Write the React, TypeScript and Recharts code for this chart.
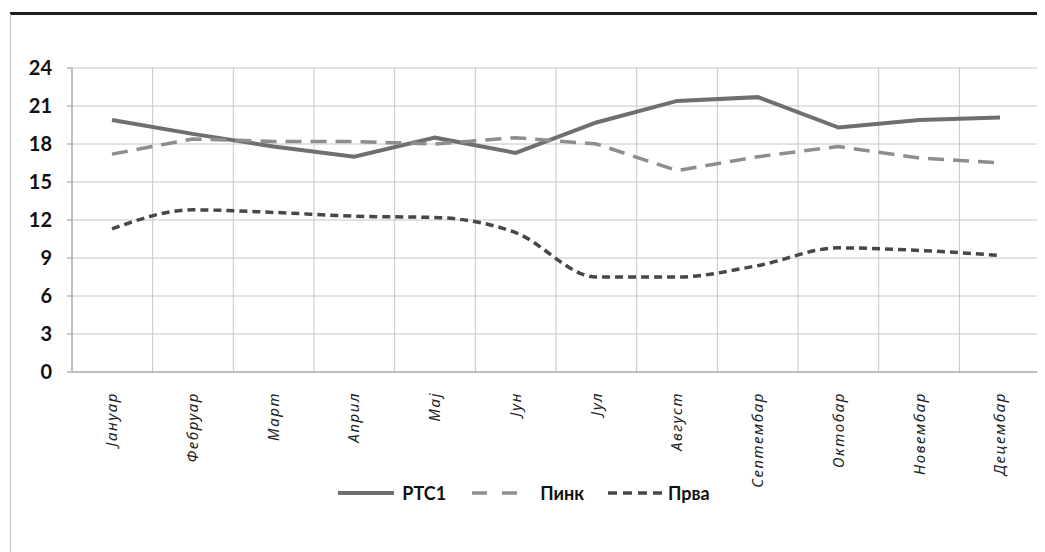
import React from 'react';
import { LineChart, Line, XAxis, YAxis, CartesianGrid, Legend } from 'recharts';

const months = ['Јануар', 'Фебруар', 'Март', 'Април', 'Мај', 'Јун', 'Јул', 'Август', 'Септембар', 'Октобар', 'Новембар', 'Децембар'];
const rtc1 = [19.9, 18.8, 17.8, 17.0, 18.5, 17.3, 19.7, 21.4, 21.7, 19.3, 19.9, 20.1];
const pink = [17.2, 18.4, 18.2, 18.2, 18.0, 18.5, 18.0, 15.9, 17.0, 17.8, 16.9, 16.5];
const prva = [11.3, 12.8, 12.6, 12.3, 12.2, 11.0, 7.5, 7.5, 8.4, 9.8, 9.6, 9.2];
const yTicks = [0, 3, 6, 9, 12, 15, 18, 21, 24];

const data = months.map((m, i) => ({ month: m, rtc1: rtc1[i], pink: pink[i], prva: prva[i] }));

// series styling, shared with the legend samples
const SERIES = [
  { key: 'rtc1', name: 'РТС1', color: '#6f6f6f', width: 4, dash: undefined as string | undefined, type: 'linear' as const },
  { key: 'pink', name: 'Пинк', color: '#8e8e8e', width: 3.5, dash: '16 9', type: 'linear' as const },
  { key: 'prva', name: 'Прва', color: '#474747', width: 3.5, dash: '8 5', type: 'monotone' as const },
];

// legend sample sizes: [line length, dash pattern, gap before label, gap after item]
const LEGEND_SAMPLES: Record<string, [number, string | undefined, number, number]> = {
  rtc1: [56, undefined, 8, 26],
  pink: [45, '15 15', 23, 24],
  prva: [56, '9 6', 4, 0],
};

const MonthTick = (props: any) => {
  const { x, y, payload } = props;
  const ty = y + 12;
  return (
    <text
      x={x}
      y={ty}
      dy="0.35em"
      textAnchor="end"
      transform={`rotate(-90, ${x}, ${ty})`}
      fontFamily="'Noto Sans', sans-serif"
      fontStyle="italic"
      fontSize={15}
      letterSpacing={1.6}
      fill="#222"
    >
      {payload.value}
    </text>
  );
};

const LegendContent = () => (
  <div style={{ display: 'flex', justifyContent: 'center', alignItems: 'center', marginTop: -6, fontFamily: 'Lato, sans-serif', fontWeight: 700, fontSize: 18, color: '#111' }}>
    {SERIES.map(s => {
      const [len, dash, gapIn, gapOut] = LEGEND_SAMPLES[s.key];
      return (
        <div key={s.key} style={{ display: 'flex', alignItems: 'center', marginRight: gapOut }}>
          <svg width={len} height={10} style={{ marginRight: gapIn }}>
            <line x1={0} y1={5} x2={len} y2={5} stroke={s.color} strokeWidth={s.width} strokeDasharray={dash} />
          </svg>
          <span>{s.name}</span>
        </div>
      );
    })}
  </div>
);

export default function App() {
  return (
    <div style={{ position: 'relative', width: 1037, height: 544, background: '#fff' }}>
      <div style={{ position: 'absolute', left: 2, top: 4, right: 0, height: 3, background: '#1e1e1e' }} />
      <div style={{ position: 'absolute', left: 2, top: 6, bottom: 0, width: 1, background: '#c4c4c4' }} />
      <LineChart width={1037} height={510} data={data} margin={{ top: 60, right: 5, bottom: 0, left: 0 }}>
        <CartesianGrid
          stroke="#c6c6c6"
          verticalCoordinatesGenerator={({ offset }: any) =>
            Array.from({ length: months.length + 1 }, (_, i) => offset.left + (i * offset.width) / months.length)
          }
        />
        <XAxis
          dataKey="month"
          interval={0}
          padding={{ left: 40, right: 40 }}
          tick={<MonthTick />}
          tickLine={false}
          axisLine={{ stroke: '#9a9a9a' }}
          height={116}
        />
        <YAxis
          domain={[0, 24]}
          ticks={yTicks}
          width={64}
          tickSize={5}
          tickMargin={15}
          axisLine={{ stroke: '#9a9a9a' }}
          tickLine={{ stroke: '#9a9a9a' }}
          tick={{ fontFamily: 'Lato, sans-serif', fontWeight: 700, fontSize: 20, fill: '#111' }}
        />
        <Legend verticalAlign="bottom" height={30} content={<LegendContent />} />
        {SERIES.map(s => (
          <Line
            key={s.key}
            type={s.type}
            dataKey={s.key}
            name={s.name}
            stroke={s.color}
            strokeWidth={s.width}
            strokeDasharray={s.dash}
            dot={false}
            activeDot={false}
            isAnimationActive={false}
          />
        ))}
      </LineChart>
    </div>
  );
}
